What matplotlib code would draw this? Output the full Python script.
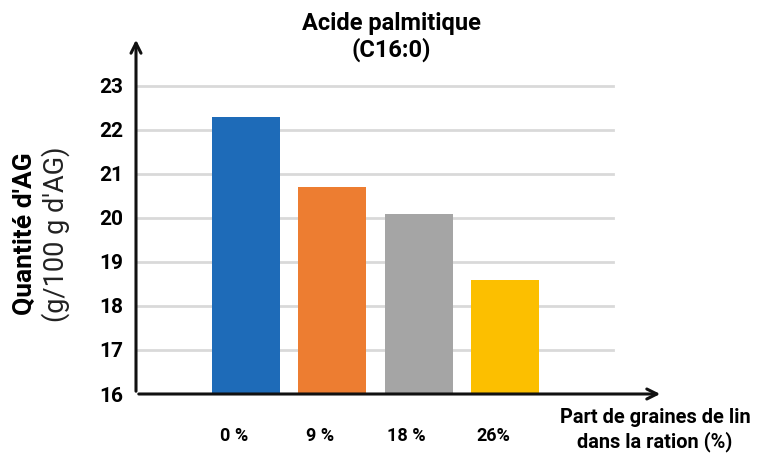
import matplotlib.pyplot as plt
from matplotlib.transforms import ScaledTranslation

plt.rcParams['font.family'] = ['Roboto', 'DejaVu Sans']

# Data
categories = ['0 %', '9 %', '18 %', '26%']
values = [22.3, 20.7, 20.1, 18.6]
colors = ['#1E6BB8', '#ED7D31', '#A5A5A5', '#FCBF00']
y_ticks = [16, 17, 18, 19, 20, 21, 22, 23]

fig = plt.figure(figsize=(7.63, 4.53), dpi=100)
ax = fig.add_axes([136 / 763, 59 / 453, 527 / 763, 357 / 453])

x = list(range(len(categories)))
ax.set_xlim(-1.275, 4.83)
ax.set_ylim(16, 24.11)

# gridlines (stop before the arrow)
for t in y_ticks[1:]:
    ax.plot([-1.275, 4.25], [t, t], color='#D9D9D9', lw=2, zorder=1)

ax.bar(x, [v - 16 for v in values], bottom=16, width=0.79, color=colors, zorder=2)

for s in ax.spines.values():
    s.set_visible(False)

# axes with arrows
arrow = dict(arrowstyle='->', lw=2.2, color='#111111', mutation_scale=18)
ax.annotate('', xy=(0, 1), xytext=(0, 0), xycoords='axes fraction', arrowprops=arrow)
ax.annotate('', xy=(1, 0), xytext=(0, 0), xycoords='axes fraction', arrowprops=arrow)

ax.set_yticks(y_ticks)
ax.set_yticklabels([str(t) for t in y_ticks])
for lab in ax.get_yticklabels():
    lab.set_fontsize(15)
    lab.set_fontweight('bold')
ax.tick_params(axis='y', length=0, pad=9)

ax.set_xticks(x)
ax.set_xticklabels(categories)
for lab in ax.get_xticklabels():
    lab.set_fontsize(13)
    lab.set_fontweight('bold')
ax.tick_params(axis='x', length=0, pad=24)
shift = ScaledTranslation(-12 / 100, 0, fig.dpi_scale_trans)
for lab in ax.get_xticklabels():
    lab.set_transform(lab.get_transform() + shift)

# title
fig.text(391 / 763, 1 - 37 / 453, 'Acide palmitique\n(C16:0)', ha='center', va='center',
         fontsize=17, fontweight='bold', linespacing=1.15)

# y label (two parts)
fig.text(25 / 763, 1 - 234 / 453, "Quantité d'AG", rotation=90, ha='center', va='center',
         fontsize=19, fontweight='bold')
fig.text(56 / 763, 1 - 234 / 453, "(g/100 g d'AG)", rotation=90, ha='center', va='center',
         fontsize=19.5, fontweight='normal', color='#222222')

# x label
fig.text(655 / 763, 1 - 430 / 453, 'Part de graines de lin\ndans la ration (%)', ha='center',
         va='center', fontsize=14.4, fontweight='bold', linespacing=1.25)

plt.savefig('out.png', dpi=100)
